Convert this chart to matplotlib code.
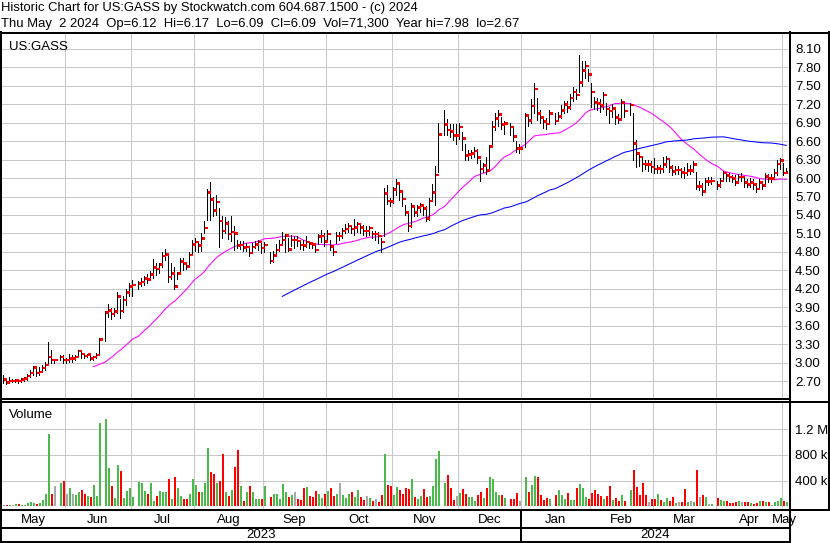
import numpy as np
import pandas as pd
import matplotlib
matplotlib.use("Agg")
import matplotlib.pyplot as plt
from matplotlib.lines import Line2D

plt.rcParams['font.family'] = ['Liberation Sans', 'DejaVu Sans']

# ---------------- data ----------------
start_date = "2023-05-03"
end_date = "2024-05-02"
holidays = ["2023-05-29", "2023-06-19", "2023-07-04", "2023-09-04", "2023-11-23",
            "2023-12-25", "2024-01-01", "2024-01-15", "2024-02-19", "2024-03-29"]

N = None
close = [2.72, 2.68, 2.70, 2.70, 2.71, 2.70, 2.72, 2.74, 2.78, 2.83, 2.92, 2.83, 2.85, 2.91, 2.96, 3.09, 3.04, 3.04, N,
         3.09, 3.04, 3.04, 3.07, 3.07, 3.09, 3.19, 3.14, 3.11, 3.13, 3.07, 3.09, 3.12, 3.38, N,
         3.81, 3.85, 3.79, 3.83, 4.07, 3.84, 4.02, 4.14, 4.24, 4.26, N,
         4.29, 4.31, 4.37, 4.35, 4.43, 4.55, 4.52, 4.59, 4.73, 4.76, 4.39, 4.45, 4.24, 4.45, 4.64, 4.61, 4.56, 4.75,
         4.92, 4.96, 4.90, 5.02, 5.19, 5.77, 5.65, 5.47, 5.61, 5.30, 5.14, 5.26, 5.09, 5.12, 5.10, 4.90, 4.91, 4.87,
         4.88, 4.78, 4.88, 4.92, 4.96, 4.86, 4.91, N,
         4.65, 4.74, 4.83, 4.91, 4.99, 5.07, 4.84, 4.99, 4.99, 4.98, 4.91, 4.90, 4.96, 4.94, 4.92, 4.83, 5.05, 5.06,
         4.97, 5.09, 4.89, 4.80, 5.06, 5.06, 5.14, 5.17, 5.22, 5.17, 5.20, 5.25, 5.20, 5.14, 5.14, 5.19, 5.09, 5.09,
         5.06, 4.96, 5.75, 5.63, 5.62, 5.81, 5.91, 5.78, 5.66, 5.44, 5.22, 5.54, 5.44, 5.52, 5.55, 5.51, 5.34, 5.63,
         5.77, 6.05, 6.71, N,
         6.87, 6.78, 6.76, 6.69, 6.69, 6.83, 6.64, 6.37, 6.38, 6.40, 6.44, 6.33, 6.15, 6.20, 6.12, 6.51, 6.83, 6.97,
         7.03, 6.87, 6.89, N,
         6.83, 6.68, 6.48, 6.48, N,
         7.02, 6.94, 7.17, 7.45, 7.05, 6.98, 6.92, 6.88, 7.05, N,
         6.93, 7.00, 7.10, 7.20, 7.15, 7.30, 7.40, 7.35, 7.55, 7.75, 7.82, 7.68,
         7.40, 7.23, 7.21, 7.18, 7.35, 7.12, 7.09, 7.13, 6.98, 6.95, 7.23, 7.09, N,
         7.19, 6.56, 6.40, 6.34, 6.23, 6.22, 6.22, 6.18, 6.15, 6.16, 6.15, 6.22, 6.31, 6.17, 6.11, 6.13, 6.13, 6.09,
         6.08, 6.12, 6.12, 6.22, 5.86, 5.86, 5.78, 5.94, 5.94, 5.95, N,
         5.88, 5.95, 6.08, 6.04, 6.02, 5.99, 5.93, 6.02, 6.02, 5.93, 5.90, 5.93, 5.90, 5.82, 5.93, 5.88, 6.03, 5.99,
         5.99, 6.08, 6.23, 6.29, 6.08, 6.09]

high = [2.79, 2.72, 2.76, 2.74, 2.73, 2.74, 2.75, 2.76, 2.82, 2.88, 2.95, 2.95, 2.92, 2.96, 3.01, 3.33, 3.20, 3.06, N,
        3.13, 3.12, 3.08, 3.14, 3.13, 3.13, 3.21, 3.18, 3.15, 3.14, 3.12, 3.11, 3.15, 3.40, N,
        3.84, 3.96, 3.88, 3.88, 4.14, 4.04, 4.08, 4.20, 4.30, 4.34, N,
        4.33, 4.37, 4.41, 4.44, 4.49, 4.69, 4.62, 4.62, 4.79, 4.85, 4.76, 4.62, 4.55, 4.48, 4.70, 4.70, 4.62, 4.79,
        5.00, 5.02, 4.98, 5.10, 5.31, 5.82, 5.94, 5.70, 5.72, 5.52, 5.38, 5.36, 5.31, 5.38, 5.22, 5.00, 4.97, 4.97,
        4.95, 4.88, 4.95, 4.98, 5.00, 4.95, 4.96, N,
        4.80, 4.82, 4.92, 5.00, 5.12, 5.09, 5.02, 5.07, 5.05, 5.06, 4.99, 5.00, 5.06, 4.98, 4.96, 4.92, 5.09, 5.16,
        5.11, 5.16, 5.00, 4.88, 5.12, 5.13, 5.18, 5.26, 5.27, 5.21, 5.33, 5.29, 5.24, 5.24, 5.22, 5.22, 5.14, 5.14,
        5.12, 5.02, 5.84, 5.88, 5.68, 5.86, 5.99, 5.93, 5.78, 5.56, 5.45, 5.60, 5.56, 5.56, 5.60, 5.58, 5.54, 5.68,
        5.90, 6.20, 6.90, N,
        7.11, 6.96, 6.88, 6.88, 6.88, 6.90, 6.75, 6.55, 6.45, 6.46, 6.50, 6.47, 6.30, 6.24, 6.35, 6.54, 6.92, 7.05,
        7.10, 7.00, 6.92, N,
        6.90, 6.84, 6.60, 6.56, N,
        7.05, 7.00, 7.28, 7.55, 7.30, 7.10, 7.00, 6.98, 7.10, N,
        7.05, 7.08, 7.18, 7.25, 7.25, 7.36, 7.48, 7.45, 8.00, 7.90, 7.90, 7.78,
        7.55, 7.32, 7.30, 7.28, 7.40, 7.22, 7.15, 7.20, 7.10, 7.04, 7.28, 7.24, N,
        7.22, 7.06, 6.62, 6.40, 6.34, 6.30, 6.30, 6.28, 6.33, 6.22, 6.22, 6.35, 6.36, 6.30, 6.22, 6.20, 6.20, 6.17,
        6.18, 6.25, 6.22, 6.27, 6.10, 5.95, 5.92, 6.00, 6.02, 6.02, N,
        5.96, 6.00, 6.12, 6.10, 6.08, 6.05, 6.05, 6.06, 6.08, 6.00, 5.98, 6.00, 5.98, 5.92, 5.98, 5.95, 6.08, 6.06,
        6.06, 6.15, 6.30, 6.33, 6.25, 6.17]

low = [2.66, 2.65, 2.67, 2.68, 2.68, 2.67, 2.69, 2.70, 2.72, 2.76, 2.80, 2.78, 2.80, 2.84, 2.88, 2.97, 2.99, 3.00, N,
       3.04, 3.00, 3.00, 3.01, 3.01, 3.04, 3.12, 3.08, 3.08, 3.09, 3.04, 3.04, 3.07, 3.15, N,
       3.35, 3.74, 3.71, 3.76, 3.80, 3.72, 3.83, 3.94, 4.08, 4.08, N,
       4.20, 4.24, 4.26, 4.30, 4.35, 4.38, 4.42, 4.45, 4.56, 4.66, 4.31, 4.36, 4.20, 4.36, 4.44, 4.50, 4.52, 4.60,
       4.75, 4.82, 4.80, 4.82, 5.10, 5.32, 5.32, 5.38, 5.40, 4.88, 5.03, 5.10, 5.01, 4.98, 4.83, 4.86, 4.84, 4.81,
       4.82, 4.74, 4.82, 4.87, 4.83, 4.78, 4.80, N,
       4.62, 4.64, 4.75, 4.82, 4.95, 4.80, 4.82, 4.90, 4.86, 4.90, 4.85, 4.83, 4.88, 4.86, 4.87, 4.80, 4.92, 4.96,
       4.90, 5.00, 4.83, 4.75, 4.95, 5.00, 5.03, 5.10, 5.12, 5.10, 5.08, 5.12, 5.10, 5.08, 5.05, 5.08, 5.02, 5.00,
       4.95, 4.80, 5.05, 5.58, 5.55, 5.60, 5.72, 5.65, 5.55, 5.40, 5.14, 5.20, 5.38, 5.38, 5.45, 5.40, 5.30, 5.32,
       5.62, 5.57, 6.10, N,
       6.70, 6.70, 6.66, 6.62, 6.55, 6.63, 6.45, 6.30, 6.30, 6.32, 6.35, 6.25, 5.96, 6.10, 6.06, 6.12, 6.50, 6.78,
       6.85, 6.80, 6.72, N,
       6.70, 6.60, 6.42, 6.40, N,
       6.50, 6.85, 6.90, 7.05, 6.95, 6.90, 6.82, 6.80, 6.88, N,
       6.88, 6.92, 6.98, 7.05, 7.08, 7.12, 7.25, 7.28, 7.40, 7.50, 7.62, 7.58,
       7.15, 7.12, 7.10, 7.08, 7.12, 7.02, 6.90, 7.00, 6.88, 6.90, 7.00, 7.00, N,
       7.02, 6.30, 6.18, 6.20, 6.12, 6.14, 6.12, 6.10, 6.08, 6.08, 6.08, 6.10, 6.18, 6.10, 6.05, 6.06, 6.06, 6.02,
       6.00, 6.05, 6.06, 6.10, 5.82, 5.80, 5.73, 5.80, 5.88, 5.90, N,
       5.82, 5.86, 5.98, 5.96, 5.95, 5.93, 5.88, 5.95, 5.95, 5.86, 5.85, 5.86, 5.82, 5.77, 5.85, 5.83, 5.90, 5.93,
       5.94, 5.98, 6.05, 6.15, 6.05, 6.09]

# volume in thousands of shares
volume_k = [30, 30, 20, 20, 40, 40, 30, 30, 60, 70, 60, 40, 50, 100, 200, 1120, 200, 310, N,
            370, 390, 200, 290, 200, 180, 230, 260, 200, 160, 150, 330, 160, 1290, N,
            1350, 600, 310, 130, 650, 550, 130, 240, 290, 140, N,
            380, 360, 240, 190, 370, 90, 160, 240, 220, 220, 420, 120, 450, 280, 170, 120, 120, 190, 430, 340, 230,
            230, 370, 900, 530, 500, 370, 400, 820, 220, 160, 260, 620, 880, 310, 90, 230, 310, 220, 120, 110, 110,
            310, N,
            150, 200, 190, 120, 350, 230, 150, 180, 220, 120, 100, 280, 300, 170, 150, 240, 190, 130, 200, 240, 280,
            170, 200, 370, 180, 130, 190, 220, 150, 260, 140, 100, 160, 130, 80, 110, 70, 180, 820, 330, 320, 180,
            300, 250, 190, 280, 265, 420, 140, 110, 160, 265, 140, 170, 310, 740, 860, N,
            370, 495, 280, 100, 160, 205, 265, 190, 140, 140, 80, 175, 220, 130, 280, 450, 420, 230, 175, 175, 130, N,
            110, 110, 205, 80, N,
            450, 220, 330, 470, 455, 175, 100, 130, 110, N,
            175, 250, 175, 110, 205, 100, 100, 280, 355, 280, 140, 110,
            205, 250, 190, 160, 110, 160, 310, 100, 130, 80, 175, 80, N,
            250, 565, 300, 175, 370, 175, 70, 110, 110, 190, 100, 70, 130, 80, 140, 60, 70, 70, 265, 70, 80, 70,
            565, 140, 175, 140, 40, 40, N,
            130, 100, 80, 80, 60, 60, 70, 80, 70, 70, 70, 60, 40, 60, 80, 80, 70, 70, 30, 70, 80, 130, 80, 71.3]

price_ticks = [2.70, 3.00, 3.30, 3.60, 3.90, 4.20, 4.50, 4.80, 5.10, 5.40, 5.70, 6.00, 6.30, 6.60, 6.90,
               7.20, 7.50, 7.80, 8.10]
vol_ticks = [400000, 800000, 1200000]
vol_tick_labels = ["400 k", "800 k", "1.2 M"]
ma_fast, ma_slow = 30, 90
header1 = "Historic Chart for US:GASS by Stockwatch.com 604.687.1500 - (c) 2024"
header2 = "Thu May  2 2024  Op=6.12  Hi=6.17  Lo=6.09  Cl=6.09  Vol=71,300  Year hi=7.98  lo=2.67"

# ---------------- prep ----------------
dates = pd.bdate_range(start_date, end_date)
n = len(dates)
c = np.array([np.nan if v is None else v for v in close], dtype=float)
h = np.array([np.nan if v is None else v for v in high], dtype=float)
l = np.array([np.nan if v is None else v for v in low], dtype=float)
vol = np.array([np.nan if v is None else v * 1000 for v in volume_k], dtype=float)
assert len(c) == n == len(h) == len(l) == len(vol), (n, len(c), len(h), len(l), len(vol))
idx = np.arange(n)
valid = ~np.isnan(c)

cs = pd.Series(c[valid], index=idx[valid])
ma1 = cs.rolling(ma_fast).mean()
ma2 = cs.rolling(ma_slow).mean()

prev = cs.shift(1)
col = np.where(cs > prev, "#4cb94c", np.where(cs < prev, "#ff0000", "#a8a8a8"))

W, H = 830, 543
fig = plt.figure(figsize=(W / 100, H / 100), dpi=100)
fig.patch.set_facecolor("white")


def add_ax(x0, y0, x1, y1):
    return fig.add_axes([x0 / W, 1 - y1 / H, (x1 - x0) / W, (y1 - y0) / H])


PX0, PX1 = 2, 788
axp = add_ax(PX0, 32, PX1, 398)
axv = add_ax(PX0, 401, PX1, 509)

xlim = (-0.43, 261.57)
ylim_p = (2.424, 8.375)
grid_c = "#c8c8c8"

# month boundaries
months = pd.Series(idx, index=dates).groupby([dates.year, dates.month])
mstarts = [g.iloc[0] for _, g in months]
mcenters = [(g.iloc[0] + g.iloc[-1]) / 2 for _, g in months]
mnames = [dates[g.iloc[0]].strftime("%b") for _, g in months]

for ax in (axp, axv):
    ax.set_xlim(*xlim)
    for s in ax.spines.values():
        s.set_visible(False)
    ax.set_xticks([m - 0.3 for m in mstarts[1:]])
    ax.tick_params(axis="x", length=0, labelbottom=False)
    ax.grid(True, color=grid_c, lw=0.72, antialiased=False)
    ax.set_axisbelow(True)
    ax.yaxis.tick_right()
    ax.tick_params(axis="y", length=0, pad=5, labelsize=9.5, colors="black")

# price panel
axp.set_ylim(*ylim_p)
axp.set_yticks(price_ticks)
axp.set_yticklabels([f"{p:.2f}" for p in price_ticks])
axp.vlines(idx[valid], l[valid], h[valid], color="black", lw=0.7, zorder=3, antialiased=False)
# red close tick: ~3 px wide, 2-3 px tall, to the right of the bar
tick_h = 2.6 * (ylim_p[1] - ylim_p[0]) / 366
axp.bar(idx[valid] + 0.12, tick_h, width=1.05, bottom=c[valid] - tick_h / 2, align="edge",
        color="#ff0000", edgecolor="none", zorder=4, antialiased=False, linewidth=0)
axp.plot(ma1.index, ma1.values, color="#ff00ff", lw=0.75, zorder=2)
axp.plot(ma2.index, ma2.values, color="#0000ff", lw=0.75, zorder=2)
axp.text(0.009, 0.975, "US:GASS", transform=axp.transAxes, ha="left", va="top", fontsize=9.5)

# volume panel
axv.set_ylim(-39000, 1636000)
axv.set_yticks(vol_ticks)
axv.set_yticklabels(vol_tick_labels)
axv.bar(cs.index, vol[valid], width=0.68, color=col, edgecolor="none", zorder=3, align="edge",
        antialiased=False)
axv.text(0.009, 0.93, "Volume", transform=axv.transAxes, ha="left", va="top", fontsize=9.5)

# frame overlay in pixel coordinates
fr = fig.add_axes([0, 0, 1, 1], zorder=10)
fr.set_xlim(0, W)
fr.set_ylim(H, 0)
fr.axis("off")
fr.patch.set_alpha(0)


def ln(x0, y0, x1, y1, w=2.0):
    fr.add_line(Line2D([x0, x1], [y0, y1], color="black", lw=w * 0.72, solid_capstyle="projecting",
                       antialiased=False))


ln(0, 32.5, W, 32.5)
ln(1, 32, 1, H)
ln(789.5, 32, 789.5, H)
ln(828.5, 32, 828.5, 510)
ln(0, 399, 789.5, 399)
ln(0, 401.5, W, 401.5)
ln(0, 509.5, W, 509.5)
ln(0, 527.5, 789.5, 527.5, 1.5)
ln(0, 541.5, 789.5, 541.5)


def px(i):
    return PX0 + (i - xlim[0]) / (xlim[1] - xlim[0]) * (PX1 - PX0)


ybound = px(mstarts[8] - 0.4)
ln(ybound, 509.5, ybound, H)

for cx, nm in zip(mcenters, mnames):
    fr.text(px(cx), 520, nm, ha="center", va="center", fontsize=9.5)

fr.text((2 + ybound) / 2, 535, "2023", ha="center", va="center", fontsize=9.5)
fr.text((ybound + 789) / 2, 535, "2024", ha="center", va="center", fontsize=9.5)

fr.text(1, 8, header1, ha="left", va="center", fontsize=9.4)
fr.text(1, 24, header2, ha="left", va="center", fontsize=9.4)

fig.savefig("out.png", dpi=100, facecolor="white")
